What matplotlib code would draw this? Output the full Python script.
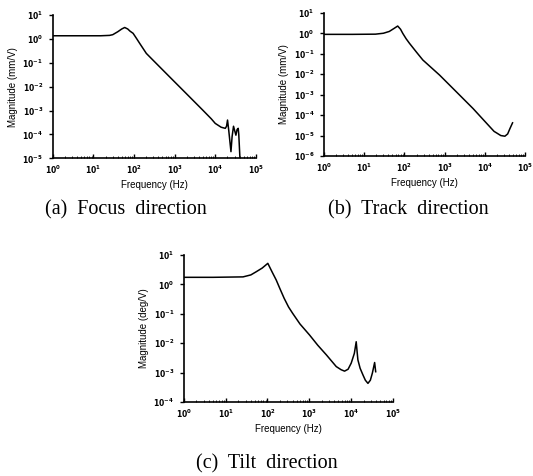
import numpy as np
import matplotlib
matplotlib.use('Agg')
from matplotlib import pyplot as plt
from matplotlib.ticker import LogLocator, FixedLocator

# frequency (Hz) / magnitude values
focus_f = [1, 5, 15, 25, 30, 40, 50, 59, 70, 80, 95, 115, 138, 201, 292, 750,
           1925, 4910, 8000, 10000, 14000, 17700, 19000, 20100, 21500, 24400,
           26000, 28200, 32300, 34500, 36800, 38000, 40500]
focus_m = [1.35, 1.35, 1.35, 1.4, 1.5, 2.0, 2.6, 3.0, 2.6, 2.1, 1.71, 1.05,
           0.65, 0.247, 0.13, 0.0259, 0.0052, 1.05e-3, 4.5e-4, 2.9e-4, 2.0e-4,
           1.8e-4, 2.2e-4, 4.0e-4, 1.5e-4, 1.9e-5, 8e-5, 2.2e-4, 9.3e-5,
           1.6e-4, 1.8e-4, 1.0e-4, 1.1e-5]

track_f = [1, 5, 19, 30, 42, 55, 68, 80, 91, 110, 133, 200, 287, 750, 1960,
           5100, 13300, 17000, 19600, 25000, 31600, 37000, 42200, 49000]
track_m = [0.9, 0.9, 0.92, 1.02, 1.25, 1.75, 2.3, 1.6, 1.0, 0.55, 0.33, 0.12,
           0.05, 9.1e-3, 1.38e-3, 2.1e-4, 2.7e-5, 1.6e-5, 1.35e-5, 1.0e-5,
           9.3e-6, 1.2e-5, 2.2e-5, 4.2e-5]

tilt_f = [1, 5, 26, 40, 54, 75, 102, 130, 162, 200, 251, 320, 400, 600, 1016,
          1600, 2570, 4430, 5800, 7000, 8500, 10100, 12000, 13300, 14000,
          14600, 16500, 19300, 22000, 25400, 29000, 32400, 36700, 38900]
tilt_m = [1.74, 1.74, 1.8, 2.1, 2.7, 3.6, 5.2, 2.6, 1.41, 0.7, 0.336, 0.17,
          0.104, 0.045, 0.019, 8.5e-3, 4e-3, 1.6e-3, 1.25e-3, 1.12e-3, 1.3e-3,
          2.1e-3, 4.5e-3, 1.12e-2, 5e-3, 2.7e-3, 1.4e-3, 8.3e-4, 5.5e-4,
          4.3e-4, 5.5e-4, 9.6e-4, 2.2e-3, 1.07e-3]

plots = [
    ('(a)  Focus  direction', 'Magnitude (mm/V)', focus_f, focus_m, 1, -5,
     [0.099, 0.6674, 0.381, 0.3011], (0.237, 0.538)),
    ('(b)  Track  direction', 'Magnitude (mm/V)', track_f, track_m, 1, -6,
     [0.608, 0.6723, 0.377, 0.3004], (0.767, 0.538)),
    ('(c)  Tilt  direction', 'Magnitude (deg/V)', tilt_f, tilt_m, 1, -4,
     [0.345, 0.1555, 0.392, 0.3088], (0.500, 0.005)),
]

fig = plt.figure(figsize=(5.33, 4.76), dpi=100)

for cap, ylab, f, m, ytop, ybot, box, cpos in plots:
    ax = fig.add_axes(box)
    ax.plot(f, m, color='black', lw=1.1)
    ax.set_xscale('log')
    ax.set_yscale('log')
    ax.set_xlim(1, 1e5)
    ax.set_ylim(10.0 ** ybot, 10.0 ** ytop)
    ax.spines['top'].set_visible(False)
    ax.spines['right'].set_visible(False)
    ax.spines['left'].set_linewidth(1.2)
    ax.spines['bottom'].set_linewidth(1.2)

    ax.xaxis.set_major_locator(FixedLocator([10.0 ** k for k in range(0, 6)]))
    ax.set_xticklabels(['$\\mathbf{10^{%d}}$' % k for k in range(0, 6)])
    ax.xaxis.set_minor_locator(LogLocator(base=10, subs=np.arange(2, 10), numticks=20))
    ax.xaxis.set_minor_formatter(plt.NullFormatter())
    yk = list(range(ybot, ytop + 1))
    ax.yaxis.set_major_locator(FixedLocator([10.0 ** k for k in yk]))
    ax.set_yticklabels(['$\\mathbf{10^{%d}}$' % k for k in yk])
    ax.yaxis.set_minor_locator(plt.NullLocator())

    ax.tick_params(axis='x', which='major', direction='in', length=3, width=1,
                   labelsize=5.5, pad=4)
    ax.tick_params(axis='x', which='minor', direction='in', length=1.5, width=0.6)
    ax.tick_params(axis='y', which='major', direction='out', length=3, width=1,
                   labelsize=5.5, pad=4)

    ax.set_xlabel('Frequency (Hz)', fontsize=7, family='Liberation Sans', labelpad=3)
    ax.set_ylabel(ylab, fontsize=7, family='Liberation Sans', labelpad=3)

    fig.text(cpos[0], cpos[1], cap, ha='center', va='bottom', fontsize=14.5,
             family='Liberation Serif')

fig.savefig('out.png', dpi=100)
